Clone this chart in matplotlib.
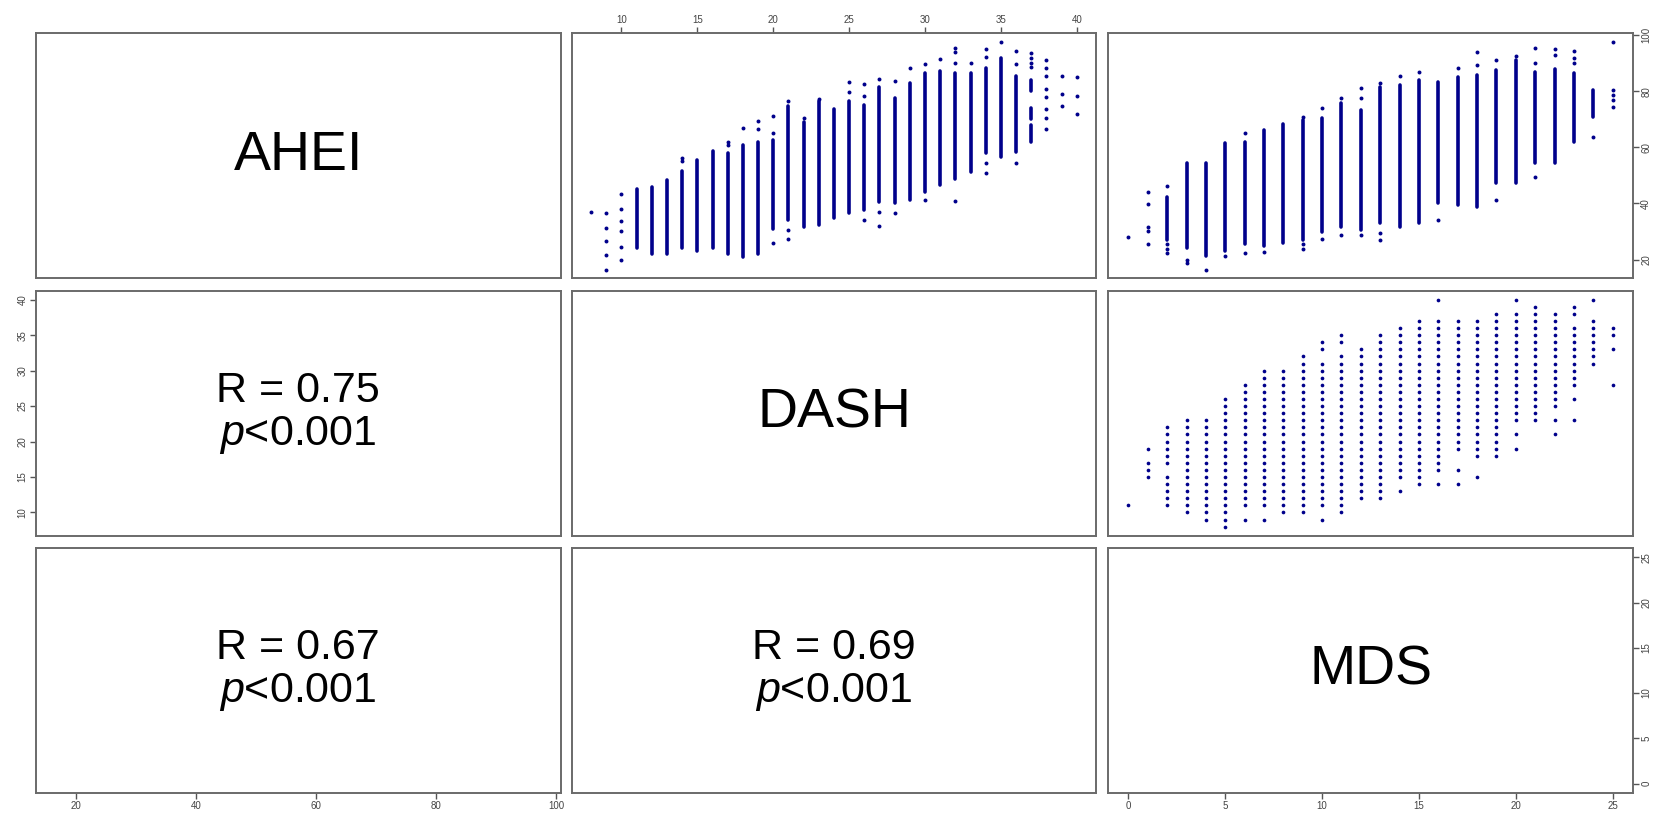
import matplotlib
matplotlib.use('Agg')
import matplotlib.pyplot as plt
import numpy as np

plt.rcParams['font.family'] = ['Liberation Sans', 'DejaVu Sans']
plt.rcParams['mathtext.fontset'] = 'custom'
plt.rcParams['mathtext.rm'] = 'Liberation Sans'
plt.rcParams['mathtext.it'] = 'Liberation Sans:italic'

var_names = ['AHEI', 'DASH', 'MDS']
var_lims = [(13.3, 100.7), (6.72, 41.28), (-1.04, 26.04)]
var_ticks = [[20, 40, 60, 80, 100], [10, 15, 20, 25, 30, 35, 40], [0, 5, 10, 15, 20, 25]]

# lower panels: correlation text
r_labels = {(1, 0): '0.75', (2, 0): '0.67', (2, 1): '0.69'}
p_label = '<0.001'

# DASH (x) vs AHEI (y): dense columns + single points
dash_seg_x = [11, 12, 13, 14, 15, 16, 17, 18, 19, 20, 21, 22, 23, 24, 25, 26, 27, 28,
              29, 30, 31, 32, 33, 34, 35, 36, 37, 37, 37]
dash_seg_lo = [24, 22, 22, 24, 23, 24, 22, 21, 22, 30.8, 34.1, 31.7, 32.3, 34.7, 36.5, 37.7, 40.6, 40.0,
               41.4, 44.2, 46.6, 48.9, 51.3, 57.9, 56.7, 58.5, 62.1, 70, 80]
dash_seg_hi = [45.3, 45.7, 48.3, 51.4, 55.4, 58.7, 58, 60.7, 62.1, 62.7, 74.6, 69.2, 76.4, 73.6, 76.6, 75, 81.4, 77.6,
               82.9, 86.5, 87.2, 86.7, 86.6, 88.2, 91.8, 85.5, 68, 74, 84]
dash_pt_x = [8, 9, 9, 9, 9, 9, 10, 10, 10, 10, 10, 10, 14, 14, 17, 17, 18, 19, 19,
             20, 20, 20, 21, 21, 21, 22, 23, 25, 25, 26, 26, 26, 27, 27, 27, 28, 28,
             29, 30, 30, 31, 32, 32, 32, 32, 33, 34, 34, 34, 34, 35, 36, 36, 36,
             37, 37, 37, 37, 38, 38, 38, 38, 38, 38, 38, 38, 39, 39, 39, 40, 40, 40]
dash_pt_y = [37.0, 36.5, 31.4, 26.7, 21.5, 16.3, 43.3, 37.9, 33.9, 30.3, 24.4, 20.0, 56.1, 55.0, 62.1, 60.7, 66.8, 69.5, 66.5,
             71.3, 65.3, 25.8, 76.7, 30.5, 27.2, 70.5, 77.3, 83.2, 79.9, 82.5, 78.3, 34.1, 84.4, 36.8, 32.1, 83.6, 36.7,
             88.4, 89.9, 41.2, 91.5, 95.4, 94.2, 90.0, 40.8, 90.0, 95.0, 92.4, 54.3, 50.8, 97.7, 94.4, 89.6, 54.6,
             93.5, 92.0, 90.0, 88.5, 91.1, 88.2, 85.5, 80.7, 78.1, 73.6, 70.4, 66.6, 85.5, 79.0, 74.6, 85.0, 78.5, 72.0]

# MDS (x) vs AHEI (y)
mds_seg_x = [2, 3, 4, 5, 6, 7, 8, 9, 10, 11, 12, 13, 14, 15, 16, 17, 18, 19, 20, 21, 22, 23, 24]
mds_seg_lo = [27, 24, 21.4, 23, 25.5, 25, 26, 27, 29.9, 31.7, 30.5, 32.9, 31.7, 32.9, 40.1, 39.5, 38.9, 47.4, 47.4,
              54.3, 54.3, 62.1, 71.0]
mds_seg_hi = [42.4, 54.6, 54.6, 61.5, 62, 66.2, 68.4, 69.8, 70.4, 75.7, 73.4, 81.4, 82.3, 84.1, 83.5, 85, 86, 87.6, 91.2,
              87, 87.9, 86.4, 80.5]
mds_pt_x = [0, 1, 1, 1, 1, 1, 2, 2, 2, 2, 3, 3, 4, 5, 6, 6, 7, 9, 9, 9, 10, 10, 11, 11, 12, 12, 12,
            13, 13, 13, 14, 15, 16, 17, 18, 18, 19, 19, 20, 21, 21, 21, 22, 22, 23, 23, 23, 24,
            25, 25, 25, 25, 25]
mds_pt_y = [27.9, 44.2, 39.8, 31.5, 30.3, 25.5, 46.4, 25.5, 23.6, 22.2, 19.8, 18.9, 16.3, 21.3, 65.0, 22.2, 22.8, 71.0, 25.5, 23.6, 74.2, 27.2, 77.5, 28.8, 81.1, 77.5, 28.8,
            82.9, 29.4, 27.0, 85.5, 87.0, 34.1, 88.2, 93.9, 89.4, 91.0, 41.4, 92.6, 95.4, 90.0, 49.6, 95.0, 93.0, 94.4, 91.8, 90.0, 63.8,
            97.5, 80.5, 78.7, 76.9, 74.5]


def rng(a, b):
    return list(range(a, b + 1))


# MDS (x) vs DASH (y): both integer scores, DASH values seen at each MDS score
mds_dash = [
    [11],
    [15, 16, 17, 19],
    rng(11, 15) + rng(17, 22),
    rng(10, 23),
    rng(9, 23),
    rng(8, 26),
    [9] + rng(11, 28),
    [9] + rng(11, 30),
    rng(10, 30),
    rng(10, 32),
    [9] + rng(11, 31) + [33, 34],
    rng(10, 32) + [34, 35],
    rng(12, 33),
    rng(12, 35),
    [13] + rng(15, 36),
    rng(14, 37),
    [14] + rng(16, 37) + [40],
    [14, 16] + rng(19, 37),
    [15] + rng(18, 37),
    rng(18, 38),
    [19, 21] + rng(23, 38) + [40],
    rng(23, 39),
    [21, 23] + rng(25, 38),
    [23, 26] + rng(28, 36) + [38, 39],
    rng(31, 37) + [40],
    [28, 33, 35, 36],
]

dot_color = '#00008B'
frame_color = '#6a6a6a'
tick_color = '#555555'

W, H = 1661, 817
col_left = [36, 571.7, 1108.3]
row_top = [33.3, 290.7, 548]
pw, ph = 524.5, 245

fig = plt.figure(figsize=(W / 100, H / 100), dpi=100)


def panel(i, j):
    ax = fig.add_axes([col_left[j] / W, (H - row_top[i] - ph) / H, pw / W, ph / H])
    ax.set_xlim(var_lims[j])
    ax.set_ylim(var_lims[i])
    for sp in ax.spines.values():
        sp.set_color(frame_color)
        sp.set_linewidth(1.4)
    ax.tick_params(which='both', length=4, width=1, color=tick_color, labelcolor='#444444',
                   labelsize=7, direction='out',
                   bottom=False, top=False, left=False, right=False,
                   labelbottom=False, labeltop=False, labelleft=False, labelright=False)
    ax.set_xticks(var_ticks[j])
    ax.set_yticks(var_ticks[i])
    return ax


axes = {}
for i in range(3):
    for j in range(3):
        axes[(i, j)] = panel(i, j)


def dense(ax, xs, lo, hi, pxs, pys):
    ax.vlines(xs, lo, hi, colors=dot_color, linewidth=2.6, capstyle='round')
    ax.scatter(pxs, pys, s=8, color=dot_color, linewidths=0)


dense(axes[(0, 1)], dash_seg_x, dash_seg_lo, dash_seg_hi, dash_pt_x, dash_pt_y)
dense(axes[(0, 2)], mds_seg_x, mds_seg_lo, mds_seg_hi, mds_pt_x, mds_pt_y)

ax = axes[(1, 2)]
for m, ys in enumerate(mds_dash):
    ax.scatter([m] * len(ys), ys, s=7, color=dot_color, linewidths=0)

# diagonal names
for k, name in enumerate(var_names):
    axes[(k, k)].text(0.5, 0.5, name, transform=axes[(k, k)].transAxes,
                      ha='center', va='center', fontsize=40)

# correlation text
for (i, j), r in r_labels.items():
    axes[(i, j)].text(0.5, 0.5, f'R = {r}\n$p${p_label}', transform=axes[(i, j)].transAxes,
                      ha='center', va='center', fontsize=31, linespacing=1.1)

# outer axes like R pairs()
axes[(0, 1)].tick_params(top=True, labeltop=True, pad=2)
axes[(2, 0)].tick_params(bottom=True, labelbottom=True, pad=2)
axes[(2, 2)].tick_params(bottom=True, labelbottom=True, pad=2)
axes[(1, 0)].tick_params(left=True, labelleft=True, pad=2)
axes[(0, 2)].tick_params(right=True, labelright=True, pad=2)
axes[(2, 2)].tick_params(right=True, labelright=True, pad=2)
for key in [(1, 0), (0, 2), (2, 2)]:
    for lab in axes[key].get_yticklabels():
        lab.set_rotation(90)
        lab.set_va('center')

fig.savefig('out.png', dpi=100, facecolor='white')
